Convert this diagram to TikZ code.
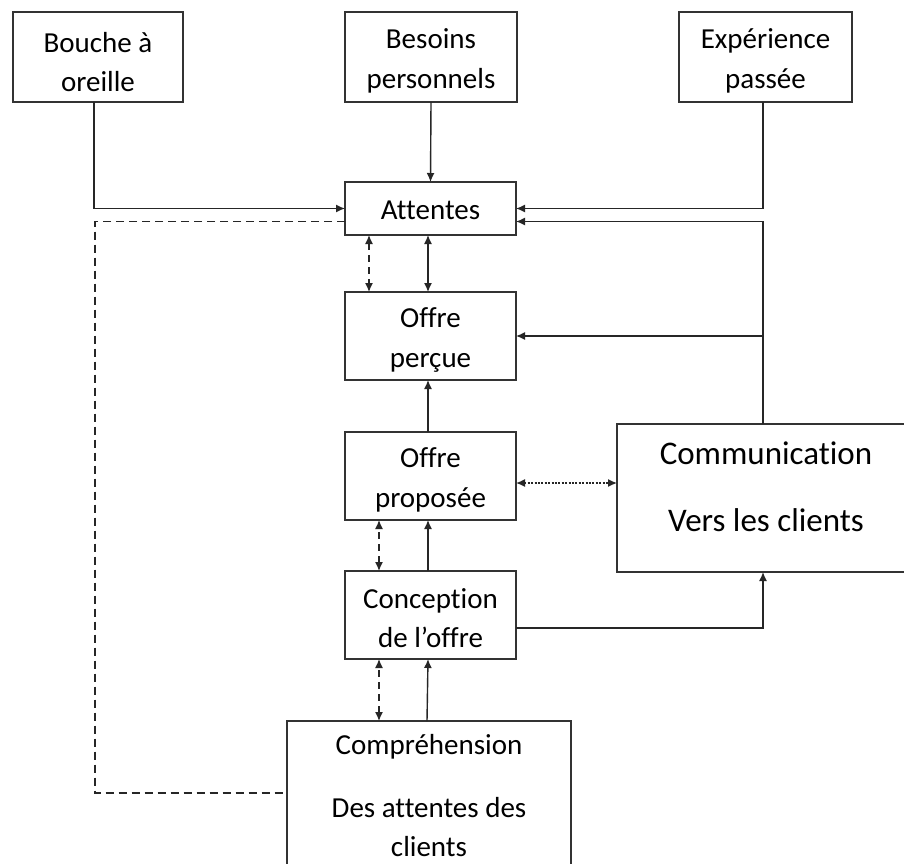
\documentclass[tikz,border=0pt]{standalone}
\usepackage{fontspec}
\setmainfont[Ligatures={NoCommon,NoContextual,NoRequired},Contextuals=NoAlternate]{Carlito}
\usetikzlibrary{arrows.meta,calc}

\tikzset{
  box/.style={draw=black!80, line width=1.6pt, rectangle, anchor=north west,
              inner sep=0pt, outer sep=0pt},
  txt/.style={inner sep=0pt, align=center, font=\fontsize{29}{39.5}\selectfont},
  bigtxt/.style={inner sep=0pt, font=\fontsize{33}{40}\selectfont},
  link/.style={draw=black!85, line width=1.4pt},
  tip/.tip={Latex[length=9pt,width=8pt]},
  arr/.style={link, -tip},
  dblarr/.style={link, tip-tip},
  dashline/.style={dash pattern=on 8pt off 5pt},
  shortdash/.style={dash pattern=on 7pt off 5pt},
  dotline/.style={dash pattern=on 2pt off 1.4pt}
}

\begin{document}
\begin{tikzpicture}[x=1pt,y=-1pt]
\useasboundingbox[fill=white] (0,0) rectangle (904,863);
\clip (0,0) rectangle (904,863);

% boxes
\node[box, minimum width=170, minimum height=90] (bouche) at (13,12) {};
\node[box, minimum width=172, minimum height=90] (besoins) at (345,12) {};
\node[box, minimum width=173, minimum height=90] (exper) at (679,12) {};
\node[box, minimum width=171, minimum height=53] (att) at (345,182) {};
\node[box, minimum width=171, minimum height=88] (percue) at (345,292) {};
\node[box, minimum width=171, minimum height=88] (propo) at (345,432) {};
\node[box, minimum width=171, minimum height=88] (concep) at (345,571) {};
\node[box, minimum width=298, minimum height=148] (comm) at (617,424) {};
\node[box, minimum width=284, minimum height=200] (compr) at (287,721) {};

% box texts
\node[txt] (bouche-t) at ([yshift=-5pt]bouche.center) {Bouche à\\oreille};
\node[txt] (besoins-t) at ([yshift=-4pt]besoins.center) {Besoins\\personnels};
\node[txt] (exper-t) at ([yshift=-4pt]exper.center) {Expérience\\passée};
\node[txt] (att-t) at ([yshift=-2pt]att.center) {Attentes};
\node[txt] (percue-t) at ([yshift=-4pt]percue.center) {Offre\\perçue};
\node[txt] (propo-t) at ([yshift=-4pt]propo.center) {Offre\\proposée};
\node[txt] (concep-t) at ([yshift=-3pt]concep.center) {Conception\\de l’offre};
\node[bigtxt] (comm-a) at (766,453) {Communication};
\node[bigtxt] (comm-b) at (766,520) {Vers les clients};
\node[txt] (compr-a) at (429,747) {Compréhension};
\node[txt] (compr-b) at (429,808) {Des attentes des};
\node[txt] (compr-c) at (429,847) {clients};

% junction points on the communication box
\coordinate (ctop) at ($(comm.north west)+(146,0)$);
\coordinate (cbot) at ($(comm.south west)+(146,0)$);

% inputs to the expectations
\draw[arr] ($(bouche.south west)+(81,0)$) |- (att.west);
\draw[arr] (besoins.south) -- (att.north);
\draw[arr] ($(exper.south west)+(84,0)$) |- (att.east);
\draw[arr] (ctop) |- ($(att.east)+(0,13)$);
\draw[arr] (ctop |- percue.east) -- (percue.east);

% dashed feedback loop from the understanding of expectations
\draw[link, dashline] ($(att.west)+(0,13)$) -- ++(-250,0) |- ($(compr.north west)+(0,72)$);

% vertical chain
\draw[dblarr, shortdash] ($(att.south west)+(24,0)$) -- ($(percue.north west)+(24,0)$);
\draw[dblarr] ($(att.south west)+(83,0)$) -- ($(percue.north west)+(83,0)$);
\draw[arr] ($(propo.north west)+(83,0)$) -- ($(percue.south west)+(83,0)$);
\draw[dblarr, shortdash] ($(concep.north west)+(34,0)$) -- ($(propo.south west)+(34,0)$);
\draw[arr] ($(concep.north west)+(83,0)$) -- ($(propo.south west)+(83,0)$);
\draw[dblarr, shortdash] ($(compr.north west)+(92,0)$) -- ($(concep.south west)+(34,0)$);
\draw[arr] ($(compr.north west)+(140,0)$) -- ($(concep.south west)+(83,0)$);

% communication links
\draw[dblarr, dotline] ($(propo.east)+(0,7)$) -- ($(comm.north west)+(0,59)$);
\draw[arr] ($(concep.east)+(0,13)$) -| (cbot);
\end{tikzpicture}
\end{document}
